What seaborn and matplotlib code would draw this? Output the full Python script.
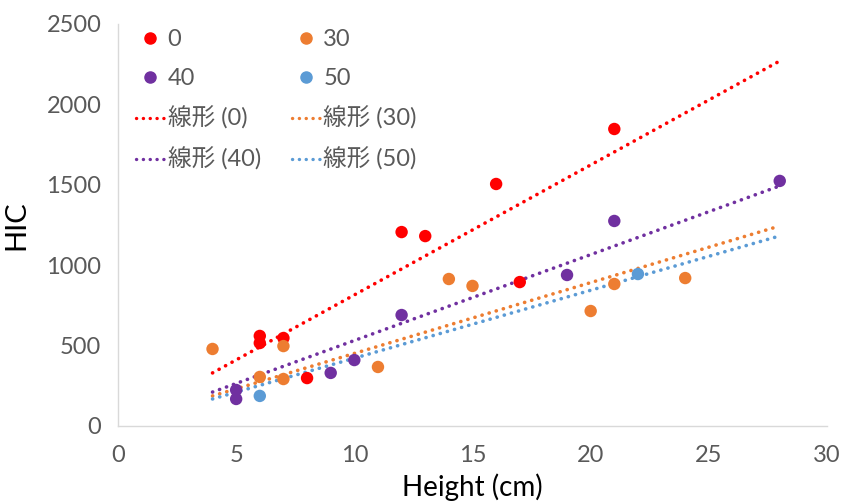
import matplotlib
matplotlib.use("Agg")
import matplotlib.pyplot as plt
import seaborn as sns
import pandas as pd
from matplotlib.lines import Line2D

# ---- data ----
series_names = ["0", "30", "40", "50"]
x_0 = [6, 6, 7, 8, 12, 13, 16, 17, 21]
y_0 = [560, 516, 547, 298, 1206, 1181, 1505, 895, 1847]
x_30 = [4, 6, 7, 7, 11, 14, 15, 20, 21, 24]
y_30 = [479, 305, 497, 292, 367, 914, 871, 715, 883, 920]
x_40 = [5, 5, 9, 10, 12, 19, 21, 28]
y_40 = [224, 168, 330, 410, 690, 939, 1275, 1524]
x_50 = [6, 22]
y_50 = [187, 945]
# linear trend lines (Excel "線形") read as values at x start / end
trend_x = [4, 28]
trend_0 = [330, 2270]
trend_30 = [187, 1244]
trend_40 = [211, 1493]
trend_50 = [168, 1182]

colors = {"0": "#FF0000", "30": "#ED7D31", "40": "#7030A0", "50": "#5B9BD5"}

sns.set_theme(style="white")
plt.rcParams["font.family"] = ["Lato", "Noto Sans CJK JP", "DejaVu Sans"]
grey = "#595959"

pts = pd.concat([
    pd.DataFrame({"x": x_0, "y": y_0, "s": "0"}),
    pd.DataFrame({"x": x_30, "y": y_30, "s": "30"}),
    pd.DataFrame({"x": x_40, "y": y_40, "s": "40"}),
    pd.DataFrame({"x": x_50, "y": y_50, "s": "50"}),
])
trends = pd.concat([
    pd.DataFrame({"x": trend_x, "y": trend_0, "s": "0"}),
    pd.DataFrame({"x": trend_x, "y": trend_30, "s": "30"}),
    pd.DataFrame({"x": trend_x, "y": trend_40, "s": "40"}),
    pd.DataFrame({"x": trend_x, "y": trend_50, "s": "50"}),
])

fig = plt.figure(figsize=(8.47, 5.04), dpi=100)
ax = fig.add_axes([0.1393, 0.1548, 0.8371, 0.7976])

dot = (0, (0.05, 2.0))
for name in series_names:
    d = trends[trends.s == name]
    sns.lineplot(data=d, x="x", y="y", ax=ax, color=colors[name], lw=2.6,
                 linestyle=dot, dash_capstyle="round", legend=False,
                 estimator=None, sort=False)

sns.scatterplot(data=pts, x="x", y="y", hue="s", palette=colors, ax=ax,
                s=80, edgecolor="none", legend=False, zorder=3)

ax.set_xlim(0, 30)
ax.set_ylim(0, 2500)
ax.set_xticks(range(0, 31, 5))
ax.set_yticks(range(0, 2501, 500))
ax.tick_params(axis="both", length=0, labelsize=17, labelcolor=grey)
ax.tick_params(axis="y", pad=12)
ax.tick_params(axis="x", pad=14)
for sp in ["top", "right"]:
    ax.spines[sp].set_visible(False)
for sp in ["left", "bottom"]:
    ax.spines[sp].set_color("#D9D9D9")
    ax.spines[sp].set_linewidth(1.0)
ax.set_xlabel("Height (cm)", fontsize=20, color="black", labelpad=5)
ax.set_ylabel("HIC", fontsize=21, color="black", labelpad=12)

def mk(name):
    return Line2D([], [], marker="o", color=colors[name], linestyle="none",
                  markersize=8)

def ln(name):
    return Line2D([], [], color=colors[name], lw=2.4, linestyle=dot,
                  dash_capstyle="round")

handles = [mk("0"), mk("40"), ln("0"), ln("40"), mk("30"), mk("50"), ln("30"), ln("50")]
labels = ["0", "40", "線形 (0)", "線形 (40)", "30", "50", "線形 (30)", "線形 (50)"]
leg = ax.legend(handles, labels, ncol=2, loc="upper left", bbox_to_anchor=(-0.005, 1.04),
                frameon=False, fontsize=17, handlelength=1.2, handletextpad=0.15,
                columnspacing=1.3, labelspacing=0.75, labelcolor=grey)

fig.savefig("out.png", dpi=100)
